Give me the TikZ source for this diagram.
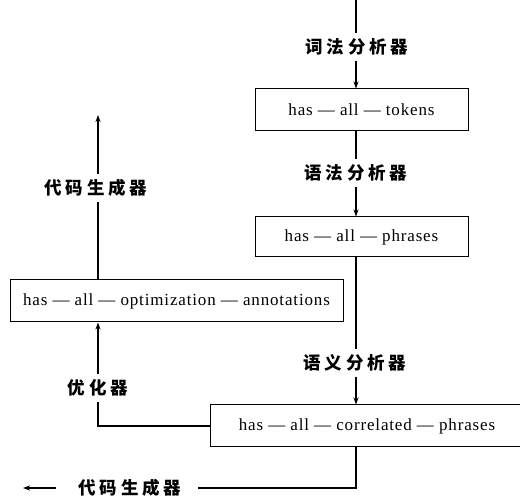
\documentclass[tikz,border=0pt]{standalone}
\usepackage{fontspec}
\setmainfont{Liberation Serif}
\newfontfamily\boxfont{Liberation Serif}[LetterSpace=5]
\newfontfamily\cjk{Noto Sans CJK SC}[LetterSpace=22]
\usetikzlibrary{arrows.meta}
\begin{document}
\begin{tikzpicture}[x=1pt,y=-1pt,
  box/.style={draw,line width=1pt,inner sep=0pt,font=\boxfont\fontsize{17}{19}\selectfont},
  lab/.style={font=\cjk\bfseries\fontsize{17.5}{19}\selectfont,inner xsep=2pt,inner ysep=5pt},
  conn/.style={line width=1.2pt},
  arr/.style={conn,-{Stealth[length=7pt,width=5pt]}}]
\useasboundingbox[fill=white] (0,0) rectangle (520,502);
% boxes
\node[box,minimum width=213pt,minimum height=42pt] (tok) at (361.5,110) {has — all — tokens};
\node[box,minimum width=213pt,minimum height=40pt] (phr) at (361.5,237) {has — all — phrases};
\node[box,minimum width=333pt,minimum height=42pt] (opt) at (176.5,301) {has — all — optimization — annotations};
\node[box,minimum width=314pt,minimum height=42pt] (cor) at (367,426) {has — all — correlated — phrases};
% labels
\node[lab] (l1) at (357,47) {词法分析器};
\node[lab] (l2) at (356,173) {语法分析器};
\node[lab] (l3) at (355,363) {语义分析器};
\node[lab] (l4) at (96,188) {代码生成器};
\node[lab] (l5) at (98,388) {优化器};
\node[lab] (l6) at (130,488) {代码生成器};
\coordinate (top) at (356,0);
\coordinate (cg) at (98,115);
\coordinate (out) at (23,488);
\coordinate (outs) at (56,488);
% right column
\draw[conn] (top) -- (top |- l1.north);
\draw[arr] (top |- l1.south) -- (top |- tok.north);
\draw[conn] (tok.south -| top) -- (top |- l2.north);
\draw[arr] (top |- l2.south) -- (top |- phr.north);
\draw[conn] (phr.south -| top) -- (top |- l3.north);
\draw[arr] (top |- l3.south) -- (top |- cor.north);
% bottom
\draw[conn] (cor.south -| top) |- ([xshift=14pt]l6.east);
\draw[arr] (outs) -- (out);
% left column
\draw[conn] (cor.west) -| (l5.south);
\draw[arr] (l5.north) -- (l5.north |- opt.south);
\draw[conn] (opt.north -| l5) -- (l4.south -| l5);
\draw[arr] (l4.north -| l5) -- (cg);
\end{tikzpicture}
\end{document}
